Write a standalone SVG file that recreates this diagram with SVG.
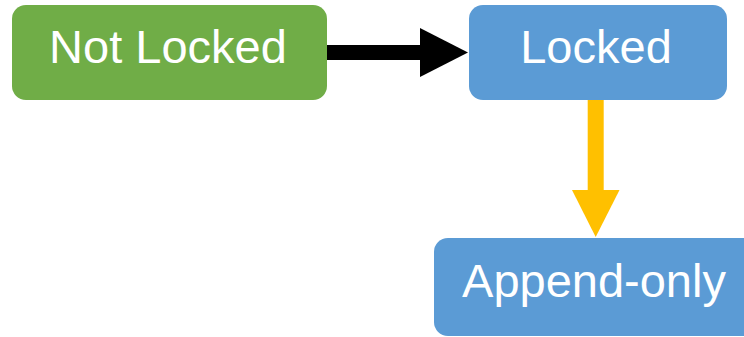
<svg xmlns="http://www.w3.org/2000/svg" width="744" height="337" viewBox="0 0 744 337">
  <style>
    .box-green { fill: #70AD47; }
    .box-blue { fill: #5B9BD5; }
    .label { font-family: "Liberation Sans", Arial, sans-serif; font-size: 47px; fill: #FFFFFF; text-anchor: middle; }
  </style>
  <g id="connectors">
    <!-- black arrow: Not Locked -> Locked -->
    <rect x="326" y="45" width="96" height="15" fill="#000000"/>
    <polygon points="420,28 468,52.5 420,77" fill="#000000"/>
    <!-- yellow arrow: Locked -> Append-only -->
    <rect x="587.7" y="100" width="16" height="91" fill="#FFC000"/>
    <polygon points="572,190 619.5,190 595.7,237" fill="#FFC000"/>
  </g>
  <g id="not-locked">
    <rect class="box-green" x="12" y="5" width="315" height="95" rx="14"/>
    <text class="label" x="168" y="63">Not Locked</text>
  </g>
  <g id="locked">
    <rect class="box-blue" x="469" y="5" width="258" height="95" rx="14"/>
    <text class="label" x="596" y="63">Locked</text>
  </g>
  <g id="append-only">
    <rect class="box-blue" x="434" y="238" width="330" height="98" rx="14"/>
    <text class="label" x="594" y="297">Append-only</text>
  </g>
</svg>
